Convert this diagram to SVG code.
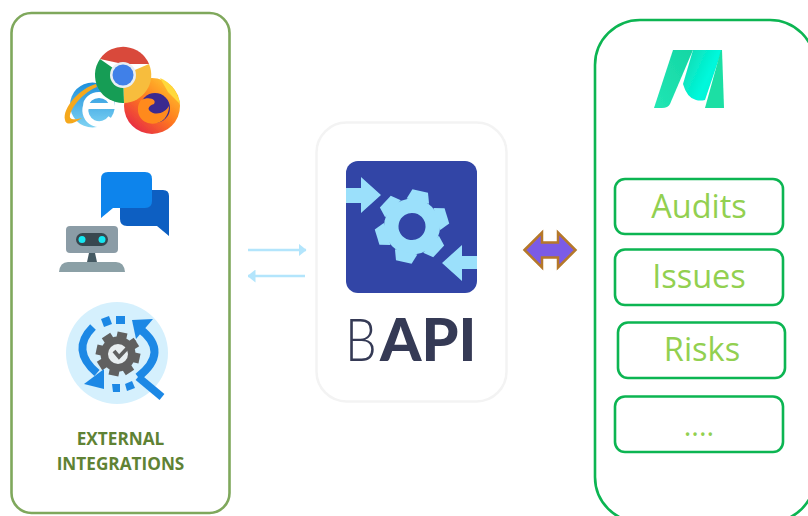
<svg xmlns="http://www.w3.org/2000/svg" width="808" height="516" viewBox="0 0 808 516">
<style>
.box{fill:#fff;stroke:#0cb552;stroke-width:2.6}
.lbl{font-family:"Open Sans","DejaVu Sans",sans-serif;font-size:32.500px;fill:#92d050;text-anchor:middle}
.ext{font-family:"Open Sans","Liberation Sans",sans-serif;font-size:17.200px;font-weight:700;fill:#5f8234;text-anchor:middle}
.sky{fill:#9be0fb}
.blue{fill:#1e88e5}
.arc{fill:none;stroke:#1e88e5;stroke-width:8}
.soft{filter:url(#blur)}
.bapi{font-family:Lato,"Liberation Sans",sans-serif;font-size:59px;fill:#353a55}
</style>
<defs>
<filter id="blur" x="-5%" y="-5%" width="110%" height="110%"><feGaussianBlur stdDeviation="0.45"/></filter>
<linearGradient id="ie" x1="0" y1="0" x2="0" y2="1"><stop offset="0" stop-color="#1c8fdc"/><stop offset="1" stop-color="#7fd3f3"/></linearGradient>
<linearGradient id="ff" x1="0.9" y1="0.1" x2="0.2" y2="0.95"><stop offset="0" stop-color="#ffc52e"/><stop offset="0.5" stop-color="#ff7a1f"/><stop offset="1" stop-color="#e62a45"/></linearGradient>
<linearGradient id="m1" x1="0" y1="1" x2="1" y2="0"><stop offset="0" stop-color="#22e6b4"/><stop offset="1" stop-color="#14d6a4"/></linearGradient>
<linearGradient id="m2" x1="0" y1="0" x2="1" y2="0.6"><stop offset="0" stop-color="#12d8ac"/><stop offset="0.7" stop-color="#00f8dc"/><stop offset="1" stop-color="#00f2d2"/></linearGradient>
<marker id="head" viewBox="0 0 8 13" refX="7.500" refY="6.500" markerUnits="userSpaceOnUse" markerWidth="8" markerHeight="13" orient="auto-start-reverse"><path d="M0 0L8 6.500L0 13Z" fill="#b3e5fc"/></marker>
<path id="tooth" d="M-11.500 -26L-8 -36.500H8L11.500 -26Z"/>
<rect id="cog" x="-5" y="-22" width="10" height="8"/>
</defs>
<rect width="808" height="516" fill="#fff"/>

<g id="external-integrations">
<rect x="11.500" y="13" width="218" height="500" rx="20" fill="#fff" stroke="#7fa85c" stroke-width="2.600"/>
<g id="browsers" class="soft">
<circle cx="92.500" cy="105" r="22.500" fill="url(#ie)"/>
<path d="M86 106H112A13 11 0 0 0 86 106A14 14 0 0 0 111 118" fill="none" stroke="#fff" stroke-width="6"/>
<path d="M96 84C80 88 62 108 65 120C66 126 74 124 82 118C74 120 69 120 70 115C72 106 84 92 97 87Z" fill="#f5a81f"/>
<circle cx="152" cy="106" r="28" fill="url(#ff)"/>
<path d="M160 78C170 82 178 92 180 104L168 92Z" fill="#ffd93a"/>
<circle cx="155" cy="108" r="15" fill="#3b2a8f"/>
<path d="M141 100C150 96 157 100 154 104C148 106 146 110 153 113C160 115 166 111 169 106C169 118 160 126 148 123C138 120 135 108 141 100Z" fill="#ff8a1f"/>
<path d="M100 59A28 28 0 0 1 149 64L123 64Z" fill="#d9483b"/>
<path d="M149 64A28 28 0 0 1 124 103L123 75Z" fill="#f7bd3e"/>
<path d="M124 103A28 28 0 0 1 100 59L123 75Z" fill="#199d54"/>
<circle cx="123" cy="75" r="13" fill="#e9eef2"/>
<circle cx="123" cy="75" r="10.500" fill="#3f80e8"/>
</g>
<g id="chatbot" class="soft">
<path d="M127 190H163Q169 190 169 196V236L157 226H127Q120 226 120 219V197Q120 190 127 190Z" fill="#0b5fc2"/>
<path d="M108 172H145Q152 172 152 179V201Q152 208 145 208H113L101 218V179Q101 172 108 172Z" fill="#0a84ec"/>
<rect x="66" y="226" width="52" height="27" rx="4" fill="#8b9ca6"/>
<rect x="76" y="233" width="32" height="13" rx="6.500" fill="#37474f"/>
<circle cx="82" cy="239.500" r="3.500" fill="#19e6f0"/>
<circle cx="102" cy="239.500" r="3.500" fill="#19e6f0"/>
<path d="M89 253H95L97 262H87Z" fill="#455a64"/>
<path d="M59 272Q60 262 68 262H116Q124 262 125 272Z" fill="#8ba0a6"/>
</g>
<g id="integration-icon" class="soft">
<circle cx="117" cy="353" r="51" fill="#d5f0fd"/>
<g fill="#616161" transform="translate(118 354) rotate(12)">
<circle r="17.500"/>
<use href="#cog"/>
<use href="#cog" transform="rotate(45)"/>
<use href="#cog" transform="rotate(90)"/>
<use href="#cog" transform="rotate(135)"/>
<use href="#cog" transform="rotate(180)"/>
<use href="#cog" transform="rotate(225)"/>
<use href="#cog" transform="rotate(270)"/>
<use href="#cog" transform="rotate(315)"/>
</g>
<circle cx="118" cy="354" r="10" fill="#e8eef0"/>
<path d="M114 351L119 357L135 340" fill="none" stroke="#616161" stroke-width="3.800"/>
<path class="arc" d="M93 327Q70 350 97 373"/>
<path class="blue" d="M84 384L104 389V369Z"/>
<path class="arc" d="M138 377Q170 352 140 329"/>
<path class="blue" d="M132 320L153 319L136 339Z"/>
<path d="M138 377L162 397" fill="none" stroke="#1e88e5" stroke-width="7.500"/>
<path class="blue" d="M101 319L109 316L112 324L104 327Z"/>
<path class="blue" d="M116 316H125V324H116Z"/>
<path class="blue" d="M112 384H120V392H113Z"/>
<path class="blue" d="M125 384L132 381L135 388L127 391Z"/>
</g>
<text class="ext" x="120.500" y="445">EXTERNAL</text>
<text class="ext" x="120.500" y="470">INTEGRATIONS</text>
</g>

<g id="bapi">
<rect x="316.500" y="122.500" width="190" height="279" rx="30" fill="#fff" stroke="#f3f3f3" stroke-width="2.500"/>
<g class="soft">
<rect x="346" y="161" width="131" height="132" rx="12" fill="#3045a6"/>
<path class="sky" d="M346 188H361V177L381 195L361 213V203H346Z"/>
<path class="sky" d="M477 256H462V245L442 263L462 281V269H477Z"/>
<g class="sky" transform="translate(412 226.500) rotate(13)">
<circle r="28"/>
<use href="#tooth"/>
<use href="#tooth" transform="rotate(60)"/>
<use href="#tooth" transform="rotate(120)"/>
<use href="#tooth" transform="rotate(180)"/>
<use href="#tooth" transform="rotate(240)"/>
<use href="#tooth" transform="rotate(300)"/>
<circle r="13.500" fill="#3045a6"/>
</g>
</g>
<text class="bapi" transform="translate(345 361) scale(0.85 1)" font-weight="300">B</text>
<text class="bapi" x="380" y="361" font-weight="900">API</text>
</g>

<g id="platform">
<rect x="595" y="20" width="220" height="502" rx="45" fill="#fff" stroke="#0cb552" stroke-width="2.600"/>
<g id="logo" class="soft">
<path d="M673 50H693L670 104Q668 108 662 108H654Z" fill="url(#m1)"/>
<path d="M693 50H722L705 100Q700 101 696 100Q687 98 683 84Z" fill="url(#m2)"/>
<path d="M721 50H722L724 108H705Z" fill="#1adfa4"/>
</g>
</g>
<g id="audits"><rect class="box" x="615" y="179" width="168" height="55" rx="10"/><text class="lbl" x="699" y="218">Audits</text></g>
<g id="issues"><rect class="box" x="615" y="249.500" width="168" height="55.500" rx="10"/><text class="lbl" x="699" y="288">Issues</text></g>
<g id="risks"><rect class="box" x="618" y="322.500" width="167" height="55.500" rx="10"/><text class="lbl" x="702" y="361">Risks</text></g>
<g id="more"><rect class="box" x="615" y="396.500" width="168" height="55.500" rx="10"/><text class="lbl" x="699" y="436" style="font-size:29px">....</text></g>

<g id="connectors">
<path d="M248 250H306" fill="none" stroke="#b3e5fc" stroke-width="2.600" marker-end="url(#head)"/>
<path d="M305 276H248" fill="none" stroke="#b3e5fc" stroke-width="2.600" marker-end="url(#head)"/>
<path d="M524.500 250L542 232.500V242.500H558V232.500L575.500 250L558 267.500V257.500H542V267.500Z" fill="#7b5be6" stroke="#b5782a" stroke-width="2.500"/>
</g>
</svg>
